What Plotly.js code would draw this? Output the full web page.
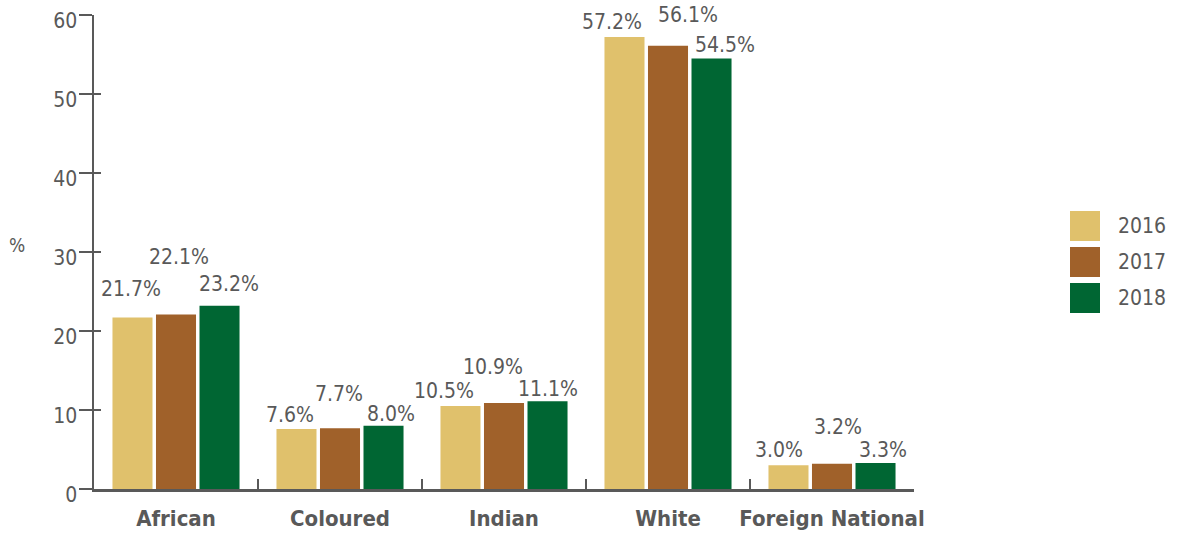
<!DOCTYPE html>
<html>
<head>
<meta charset="utf-8">
<script src="https://cdn.plot.ly/plotly-3.0.1.min.js"></script>
<style>html,body{margin:0;padding:0;background:#fff;}#chart{width:1179px;height:534px;}</style>
</head>
<body>
<div id="chart"></div>
<script>
// ---- data ----
const categories = ['African', 'Coloured', 'Indian', 'White', 'Foreign National'];
const years = ['2016', '2017', '2018'];
const values2016 = [21.7, 7.6, 10.5, 57.2, 3.0];
const values2017 = [22.1, 7.7, 10.9, 56.1, 3.2];
const values2018 = [23.2, 8.0, 11.1, 54.5, 3.3];
const yTickVals = [0, 10, 20, 30, 40, 50, 60];
const yAxisLabel = '%';

// ---- style ----
const colors = ['#E0C16C', '#A0612A', '#006633'];
const textColor = '#595959';
const FONT = '"DejaVu Sans Condensed", "Liberation Sans", sans-serif';
// label placement (px) relative to bar top centre, per series / category
const labelLift = [[21, 6, 7, 7, 7], [49, 26, 28, 23, 29], [14, 4, 4, 5, 5]];
const labelNudge = [[-1, -6, -16, -12, -9], [3, -1, -11, 20, 6], [9, 7, 0, 13, 7]];

const W = 1179, H = 534;
const M = {l: 94, r: 265, t: 15, b: 45};
const plotW = W - M.l - M.r, plotH = H - M.t - M.b;
const bargap = 0.204, bargroupgap = 0.08;
const slot = plotW / categories.length * (1 - bargap) / years.length;

const series = [values2016, values2017, values2018];
const traces = series.map((vals, s) => ({
  type: 'bar',
  name: years[s],
  x: categories,
  y: vals,
  marker: {color: colors[s], line: {width: 0}},
  hoverinfo: 'x+y+name'
}));
// helper trace so the overlay axis (inner half of the y ticks) is drawn
traces.push({type: 'scatter', x: [], y: [], yaxis: 'y2', showlegend: false, hoverinfo: 'skip'});

const annotations = [];
series.forEach((vals, s) => {
  vals.forEach((v, i) => {
    annotations.push({
      x: categories[i], y: v, xref: 'x', yref: 'y',
      text: v.toFixed(1) + '%',
      showarrow: false, yanchor: 'bottom', xanchor: 'center',
      xshift: (s - 1) * slot + labelNudge[s][i],
      yshift: labelLift[s][i] - 5,
      borderpad: 0,
      font: {family: FONT, size: 21, color: textColor}
    });
  });
});

const px2x = px => (px - M.l) / plotW;
const px2y = py => (H - M.b - py) / plotH;

// y-axis label
annotations.push({
  xref: 'paper', yref: 'paper', x: px2x(17), y: px2y(245),
  text: yAxisLabel, showarrow: false, xanchor: 'center', yanchor: 'middle',
  font: {family: FONT, size: 19, color: textColor}
});

// legend
const shapes = [];
years.forEach((yr, s) => {
  const top = 211 + s * 36;
  shapes.push({
    type: 'rect', xref: 'paper', yref: 'paper',
    x0: px2x(1070), x1: px2x(1100), y0: px2y(top + 30), y1: px2y(top),
    fillcolor: colors[s], line: {width: 0}
  });
  annotations.push({
    xref: 'paper', yref: 'paper', x: px2x(1116), y: px2y(top + 15),
    text: yr, showarrow: false, xanchor: 'left', yanchor: 'middle',
    font: {family: FONT, size: 21, color: textColor}
  });
});

const layout = {
  width: W, height: H,
  margin: M,
  paper_bgcolor: '#fff', plot_bgcolor: '#fff',
  barmode: 'group', bargap: bargap, bargroupgap: bargroupgap,
  showlegend: false,
  xaxis: {
    type: 'category',
    showline: true, linecolor: textColor, linewidth: 2.5,
    ticks: 'inside', tickson: 'boundaries', ticklen: 10, tickwidth: 2, tickcolor: textColor,
    tickfont: {family: FONT, size: 22, color: textColor, weight: 'bold'},
    tickangle: 0,
    ticklabelstandoff: 8,
    showgrid: false, zeroline: false, fixedrange: true
  },
  yaxis: {
    range: [0, 60], tickvals: yTickVals,
    showline: true, linecolor: textColor, linewidth: 2.5,
    ticks: 'outside', ticklen: 13, tickwidth: 2, tickcolor: textColor,
    tickfont: {family: FONT, size: 21, color: textColor},
    ticklabelstandoff: -3,
    ticklabelshift: 6,
    ticklabeloverflow: 'allow',
    showgrid: false, zeroline: false, fixedrange: true
  },
  yaxis2: {
    overlaying: 'y', side: 'left', anchor: 'x',
    range: [0, 60], tickvals: yTickVals,
    showline: false, showticklabels: false,
    ticks: 'inside', ticklen: 7, tickwidth: 2, tickcolor: textColor,
    showgrid: false, zeroline: false, fixedrange: true
  },
  annotations: annotations,
  shapes: shapes
};

Plotly.newPlot('chart', traces, layout, {displayModeBar: false, staticPlot: true});
</script>
</body>
</html>
